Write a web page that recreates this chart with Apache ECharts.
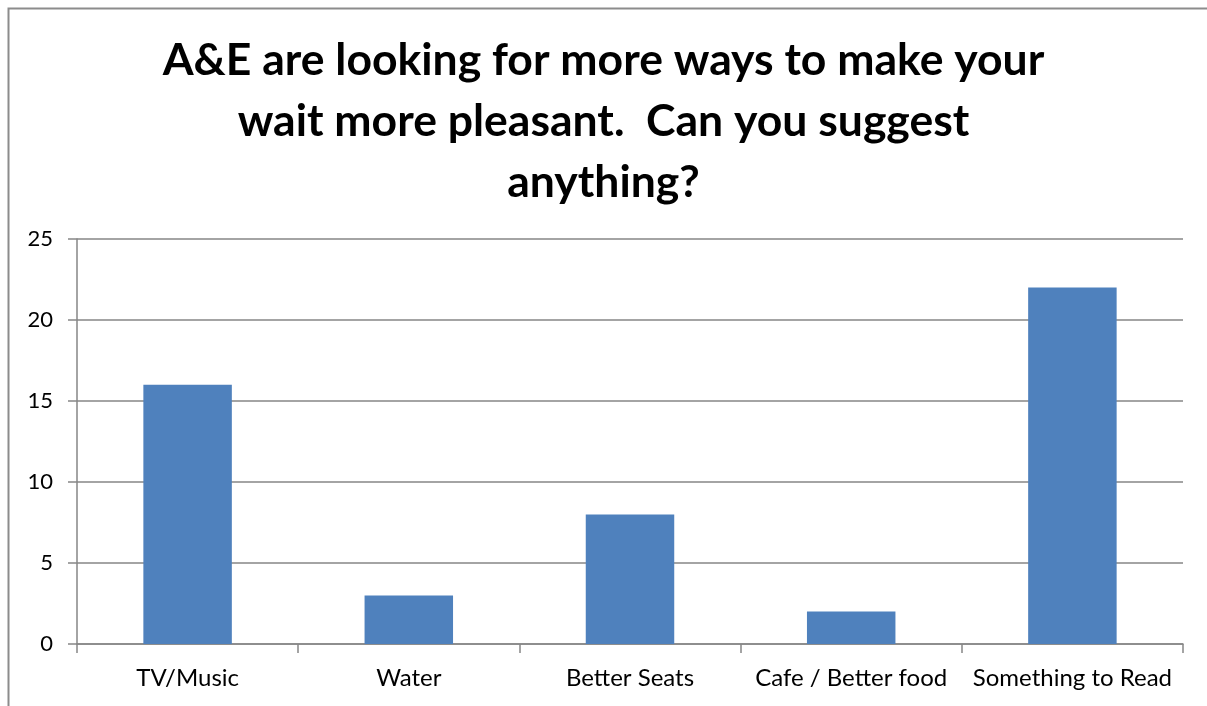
<!DOCTYPE html>
<html>
<head>
<meta charset="utf-8">
<script src="https://cdn.jsdelivr.net/npm/echarts@6/dist/echarts.min.js"></script>
<style>
html,body{margin:0;padding:0;background:#fff;}
#chart{width:1207px;height:706px;}
</style>
</head>
<body>
<div id="chart"></div>
<script>
const titleText = "A&E are looking for more ways to make your\nwait more pleasant.  Can you suggest\nanything?";
const categories = ["TV/Music", "Water", "Better Seats", "Cafe / Better food", "Something to Read"];
const values = [16, 3, 8, 2, 22];

const chart = echarts.init(document.getElementById('chart'));
const font = "Lato, 'Open Sans', sans-serif";
chart.setOption({
  animation: false,
  backgroundColor: '#fff',
  graphic: [{
    type: 'rect',
    shape: {x: 8.5, y: 8.5, width: 1400, height: 900},
    style: {fill: 'none', stroke: '#8c8c8c', lineWidth: 2},
    silent: true
  }],
  title: {
    text: titleText,
    left: 'center',
    top: 25,
    textStyle: {fontFamily: font, fontWeight: 'bold', fontSize: 44.5, lineHeight: 61, color: '#000'}
  },
  grid: {left: 77, right: 24, top: 239, bottom: 62, containLabel: false},
  xAxis: {
    type: 'category',
    data: categories,
    axisLine: {lineStyle: {color: '#868686', width: 1.5}},
    axisTick: {show: true, length: 9, lineStyle: {color: '#868686', width: 1.5}},
    axisLabel: {fontFamily: font, fontSize: 24, color: '#000', margin: 22, interval: 0}
  },
  yAxis: {
    type: 'value',
    min: 0, max: 25, interval: 5,
    axisLine: {show: true, lineStyle: {color: '#868686', width: 1.5}},
    axisTick: {show: true, length: 9, lineStyle: {color: '#868686', width: 1.5}},
    splitLine: {lineStyle: {color: '#868686', width: 1.5}},
    axisLabel: {fontFamily: font, fontSize: 22, color: '#000', margin: 24}
  },
  series: [{
    type: 'bar',
    data: values,
    barWidth: '40%',
    itemStyle: {color: '#4F81BD'}
  }]
});
</script>
</body>
</html>
